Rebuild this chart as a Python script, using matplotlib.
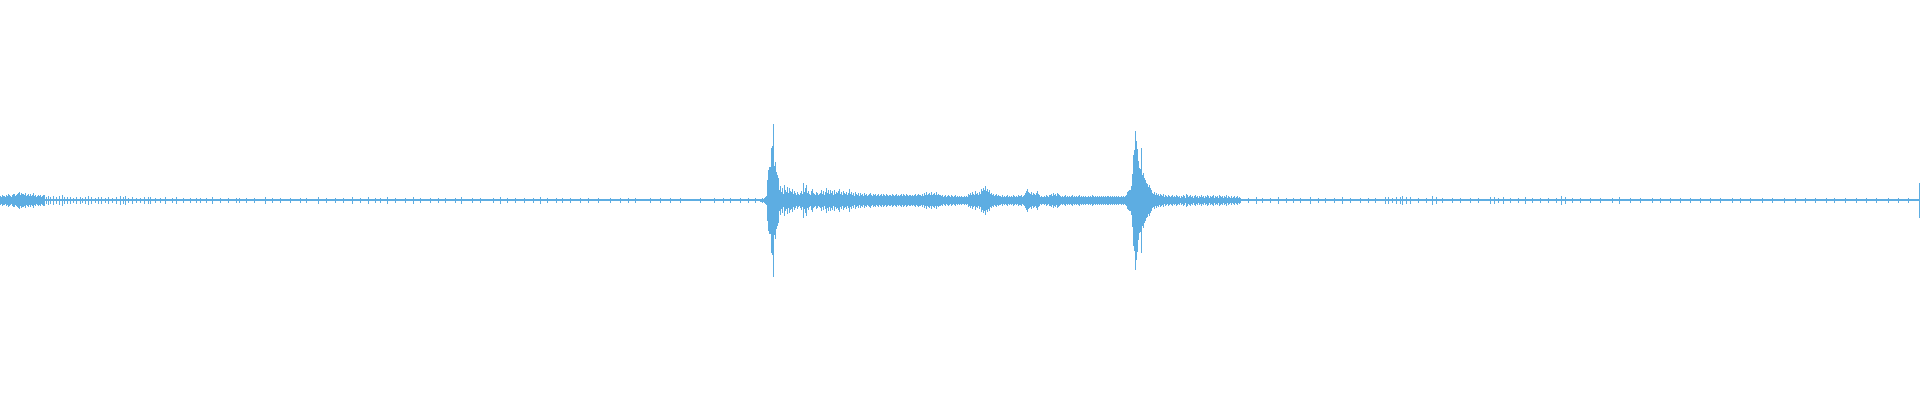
import numpy as np
import matplotlib
matplotlib.use("Agg")
import matplotlib.pyplot as plt

# waveform envelope, one sample per pixel column
# amplitudes in thousandths of full scale (symmetric +/-)
n_samples = 1920
noise_floor = 5

# noisy lead-in at the very start, column 0 onwards
intro_start = 0
intro_amp = [20, 15, 25, 20, 20, 15, 25, 20, 30, 25,
             20, 15, 25, 30, 30, 20, 25, 30, 35, 40,
             25, 35, 30, 30, 25, 35, 20, 25, 30, 20,
             30, 20, 25, 35, 20, 25, 15, 20, 25, 20,
             25, 15, 20, 25, 25]

# scattered small peaks in the quiet parts
tick_x = [46, 48, 50, 53, 56, 59, 62, 64, 67, 70,
          73, 76, 80, 82, 85, 88, 91, 95, 98, 101,
          105, 108, 112, 116, 120, 123, 125, 128, 132, 136,
          140, 144, 148, 150, 155, 160, 165, 172, 176, 183,
          190, 196, 200, 206, 212, 220, 228, 236, 239, 246,
          254, 265, 272, 280, 290, 300, 306, 318,
          326, 335, 343, 352, 360, 368, 375, 380, 387, 395,
          405, 413, 420, 430, 438, 445, 455, 461,
          472, 480, 493, 500, 507, 515, 524, 533, 540, 547,
          556, 562, 570, 580, 588, 598, 610, 620, 628, 635,
          650, 660, 670, 680, 700, 714, 723, 730, 740, 748, 755,
          1248, 1256, 1262, 1270, 1278, 1286, 1293, 1300, 1310, 1318,
          1325, 1334, 1342, 1350, 1360, 1368, 1375, 1385, 1388, 1392,
          1396, 1400, 1402, 1406, 1410, 1418, 1426, 1432, 1436, 1442,
          1452, 1460, 1470, 1478, 1490, 1494, 1498, 1503, 1510, 1518,
          1525, 1532, 1540, 1548, 1556, 1561, 1565, 1572, 1580, 1590,
          1600, 1612, 1619, 1630, 1640, 1652, 1660, 1670, 1680, 1690,
          1700, 1710, 1720, 1732, 1740, 1750, 1762, 1772, 1784, 1795,
          1805, 1815, 1826, 1834, 1845, 1856, 1866, 1876, 1888, 1898,
          1908, 1919]
tick_amp = [15, 20, 15, 20, 15, 20, 25, 15, 15, 15,
            10, 15, 15, 10, 15, 20, 15, 10, 15, 15,
            10, 15, 10, 15, 20, 15, 20, 10, 15, 10,
            10, 15, 15, 15, 10, 10, 15, 10, 15, 10,
            10, 10, 10, 10, 15, 10, 10, 10, 10, 10,
            10, 15, 10, 10, 10, 10, 10, 15,
            10, 10, 10, 15, 10, 15, 10, 10, 15, 10,
            10, 15, 10, 10, 10, 10, 10, 15,
            10, 10, 10, 15, 10, 10, 10, 10, 15, 10,
            10, 10, 10, 10, 10, 10, 10, 10, 10, 10,
            10, 10, 10, 10, 10, 10, 10, 10, 10, 10, 10,
            10, 15, 10, 10, 15, 10, 10, 10, 15, 10,
            10, 10, 15, 10, 10, 10, 10, 15, 15, 10,
            15, 15, 20, 15, 15, 10, 10, 20, 15, 10,
            10, 10, 10, 10, 15, 15, 10, 15, 10, 10,
            15, 10, 10, 10, 10, 20, 15, 10, 10, 10,
            10, 10, 15, 10, 10, 10, 10, 10, 10, 10,
            10, 10, 10, 10, 10, 10, 10, 10, 10, 10,
            10, 10, 10, 10, 10, 10, 10, 10, 10, 10,
            10, 85]

# first hit, column 760 onwards
hit1_start = 760
hit1_amp = [5, 5, 10, 5, 10, 15, 20, 100, 150, 165,
            165, 260, 270, 380, 170, 190, 140, 125, 110, 50,
            70, 40, 60, 30, 75, 50, 40, 65, 35, 60,
            45, 40, 55, 30, 45, 35, 25, 40, 30, 25,
            35, 45, 30, 85, 40, 60, 75, 35, 45, 30,
            25, 45, 55, 35, 30, 25, 40, 35, 25, 30]

# ringing after the first hit
tail1_start = 820
tail1_amp = [35, 50, 30, 45, 25, 40, 60, 35, 50, 30,
             50, 35, 45, 25, 50, 30, 40, 35, 45, 55,
             30, 40, 25, 45, 35, 30, 40, 25, 35, 55,
             30, 40, 25, 35, 20, 40, 30, 25, 35, 20,
             35, 25, 30, 20, 35, 25, 30, 20, 25, 30,
             35, 25, 20, 30, 25, 30, 20, 25, 30, 20,
             25, 30, 20, 30, 25, 20, 30, 25, 20, 25,
             25, 20, 30, 25, 20, 25, 30, 20, 25, 20,
             25, 30, 20, 30, 25, 20, 30, 25, 20, 25,
             25, 20, 25, 20, 25, 30, 20, 25, 30, 25,
             25, 20, 30, 20, 35, 25, 40, 25, 30, 35,
             25, 40, 25, 30, 35, 25, 40, 25, 30, 25]

tail2_start = 940
tail2_amp = [25, 20, 25, 15, 20, 25, 15, 20, 25, 20,
             15, 25, 20, 15, 20, 25, 15, 20, 15, 20,
             15, 20, 15, 15, 20, 15, 20, 15, 30, 25,
             35, 25, 40, 30, 25, 45, 30, 35, 25, 40,
             30, 55, 45, 60, 50, 70, 45, 55, 40, 50,
             30, 35, 25, 30, 20, 25, 30, 20, 25, 20,
             20, 15, 25, 15, 20, 15, 20, 25, 15, 20,
             15, 20, 15, 25, 20, 15, 20, 15, 25, 20,
             20, 25, 15, 20, 25, 35, 45, 55, 40, 35,
             30, 40, 25, 35, 30, 25, 35, 45, 30, 25,
             15, 20, 15, 15, 20, 15, 25, 20, 15, 25,
             25, 30, 20, 35, 25, 30, 20, 35, 30, 25,
             20, 15, 20, 15, 20, 25, 15, 20, 15, 20,
             15, 20, 25, 15, 20, 15, 20, 15, 20, 25,
             15, 20, 15, 20, 15, 20, 15, 15, 20, 15,
             20, 15, 25, 20, 15, 20, 15, 20, 15, 20,
             15, 20, 15, 20, 15, 20, 15, 20, 20, 15,
             20, 15, 20, 15, 20, 15, 20, 15, 20, 15]

# second hit
hit2_start = 1120
hit2_amp = [15, 20, 15, 20, 15, 20, 25, 40, 45, 50,
            50, 70, 130, 225, 250, 345, 295, 255, 195, 160,
            155, 260, 125, 135, 110, 100, 85, 80, 65, 75,
            60, 50, 35, 30, 40, 25, 35, 25, 30, 20,
            30]

tail3_start = 1161
tail3_amp = [25, 20, 30, 15, 25, 20, 15, 25, 20, 15,
             20, 25, 15, 20, 15, 25, 20, 15, 20, 10,
             20, 15, 25, 20, 10, 30, 25, 15, 20, 25,
             15, 20, 10, 20, 25, 15, 20, 10, 20, 15,
             25, 15, 20, 10, 20, 15, 25, 20, 10, 20,
             15, 20, 25, 10, 20, 15, 20, 10, 25, 20,
             15, 20, 10, 20, 15, 25, 10, 20, 15, 10,
             20, 10, 15, 20, 10, 15, 20, 10, 15, 10]

color = "#5DADE2"

fig = plt.figure(figsize=(19.2, 4), dpi=100)
ax = fig.add_axes([0, 0, 1, 1])
ax.set_xlim(-0.5, n_samples - 0.2)
ax.set_ylim(-1, 1)
ax.axis("off")

# the flat noise floor across the whole clip
ax.fill_between([-0.5, n_samples], -noise_floor / 1000, noise_floor / 1000,
                color=color, linewidth=0)

xs = list(tick_x)
amps = list(tick_amp)
for start, vals in [(intro_start, intro_amp), (hit1_start, hit1_amp),
                    (tail1_start, tail1_amp), (tail2_start, tail2_amp),
                    (hit2_start, hit2_amp), (tail3_start, tail3_amp)]:
    xs += list(range(start, start + len(vals)))
    amps += vals

amps = np.array(amps) / 1000
ax.vlines(xs, -amps, amps, color=color, linewidth=0.72, antialiased=False)

fig.savefig("out.png", dpi=100)
